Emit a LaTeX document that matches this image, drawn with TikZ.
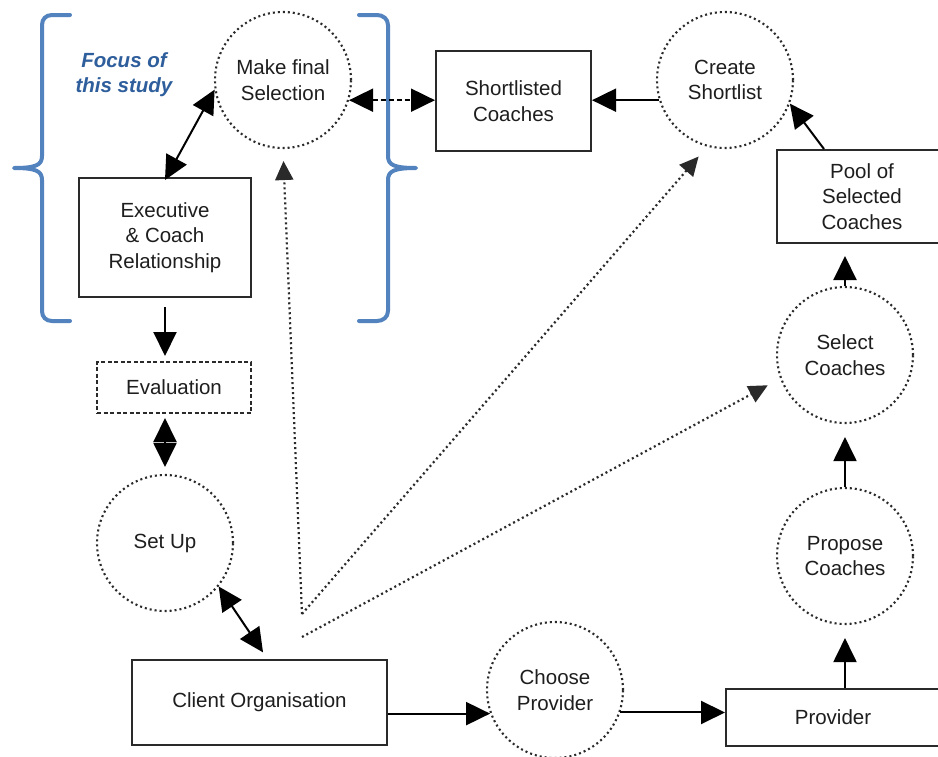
\documentclass[tikz,border=0pt]{standalone}
\usepackage{fontspec}
\setmainfont{Liberation Sans}
\usetikzlibrary{arrows.meta}
\definecolor{txt}{HTML}{1E1E1E}
\definecolor{edge}{HTML}{2A2A2A}
\definecolor{brack}{HTML}{5383BF}
\definecolor{focus}{HTML}{2F5E9C}
\begin{document}
\begin{tikzpicture}[x=1pt,y=-1pt,
  lab/.style={font=\fontsize{20.5}{25.5}\selectfont, text=txt, align=center},
  circ/.style={lab, circle, draw=edge, line width=2.1pt, dash pattern=on 2pt off 3pt, minimum size=136pt, inner sep=0pt},
  box/.style={lab, rectangle, draw=edge, line width=2pt, inner sep=0pt},
  conn/.style={draw=black, line width=2pt, -{Triangle[length=24pt,width=23pt]}},
  bconn/.style={conn, {Triangle[length=24pt,width=23pt]}-{Triangle[length=24pt,width=23pt]}},
  dconn/.style={draw=edge, line width=2.2pt, dash pattern=on 2pt off 3pt, -{Triangle[length=19pt,width=18pt]}},
  brk/.style={draw=brack, line width=4pt, line cap=round, line join=round}
]
\useasboundingbox (0,0) rectangle (938,756);
\fill[white] (0,0) rectangle (938,756);

% brackets
\draw[brk] (70,15) -- (52,15) .. controls (46,15) and (42,19) .. (42,25) -- (42,156)
  .. controls (42,165) and (36,168) .. (14,168)
  .. controls (36,168) and (42,171) .. (42,180) -- (42,311)
  .. controls (42,317) and (46,321) .. (52,321) -- (70,321);
\draw[brk] (359,15) -- (377,15) .. controls (383,15) and (388,19) .. (388,25) -- (388,156)
  .. controls (388,165) and (394,168) .. (416,168)
  .. controls (394,168) and (388,171) .. (388,180) -- (388,311)
  .. controls (388,317) and (383,321) .. (377,321) -- (359,321);
\node[font=\bfseries\itshape\fontsize{20.5}{25}\selectfont, text=focus, align=center] (focus) at (124,75) {Focus of\\this study};

% nodes
\node[circ] (sel) at (283,80) {Make final\\Selection};
\node[box, minimum width=155pt, minimum height=100pt] (sl) at (513.5,101) {Shortlisted\\Coaches};
\node[circ] (cs) at (725,80) {Create\\Shortlist};
\node[box, minimum width=170pt, minimum height=93pt] (pool) at (862,196.5) {Pool of\\Selected\\Coaches};
\node[circ] (sc) at (845,355) {Select\\Coaches};
\node[circ] (pc) at (845,556) {Propose\\Coaches};
\node[box, minimum width=214pt, minimum height=57pt] (prov) at (833,717) {Provider};
\node[circ] (cp) at (555,690) {Choose\\Provider};
\node[box, minimum width=255pt, minimum height=85pt] (client) at (259.5,702.5) {Client Organisation};
\node[circ] (su) at (165,543) {Set Up};
\node[box, minimum width=154pt, minimum height=51pt, dash pattern=on 4pt off 2.5pt] (eval) at (174,387.5) {Evaluation};
\node[box, minimum width=172pt, minimum height=119pt] (exec) at (165,237.5) {Executive\\\& Coach\\Relationship};

\coordinate (o1) at (302,614);
\coordinate (o2) at (302,637);

% connectors
\draw[bconn] (sel.188) -- ([yshift=-3pt]exec.north);
\draw[bconn, dash pattern=on 5pt off 3pt] (sel.-17) -- (sel.-17 -| sl.west);
\draw[conn] (cs.197) -- (cs.197 -| sl.east);
\draw[conn] ([xshift=48pt]pool.north west) -- (cs.-20);
\draw[conn, shorten >=12pt] (sc.north) -- (sc.north |- pool.south);
\draw[conn, shorten >=13pt] (pc.north) -- (sc.south);
\draw[conn, shorten >=13pt] (pc.south |- prov.north) -- (pc.south);
\draw[conn] (cp.-19) -- (cp.-19 -| prov.west);
\draw[conn] (cp.200 -| client.east) -- (cp.200);
\draw[conn, shorten <=9pt, shorten >=5pt] (exec.south) -- (exec.south |- eval.north);
\draw[bconn, shorten <=4pt, shorten >=7pt] (exec.south |- eval.south) -- (su.north);
\draw[bconn, shorten >=8pt] (su.-39) -- ([xshift=8pt]client.north);
\draw[dconn, shorten >=12pt] (o1) -- (sel.south);
\draw[dconn, shorten >=13pt] (o1) -- (cs.255);
\draw[dconn, shorten >=14pt] (o2) -- (sc.200);
\end{tikzpicture}
\end{document}
